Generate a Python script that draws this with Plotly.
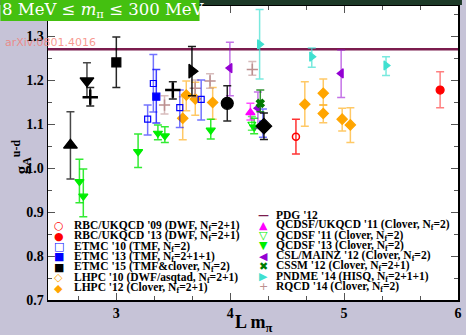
import plotly.graph_objects as go

# ---------------- data ----------------
pdg_value = 1.2701

blk_up_x = [2.597]; blk_up_y = [1.052]; blk_up_p = [0.076]; blk_up_m = [0.077]
blk_dn_x = [2.742]; blk_dn_y = [1.198]; blk_dn_p = [0.041]; blk_dn_m = [0.037]
blk_plus_x = [2.771, 3.496]; blk_plus_y = [1.161, 1.177]; blk_plus_p = [0.022, 0.019]; blk_plus_m = [0.020, 0.020]
blk_right_x = [3.664]; blk_right_y = [1.220]; blk_right_p = [0.056]; blk_right_m = [0.056]
blk_circ_x = [3.974]; blk_circ_y = [1.147]; blk_circ_p = [0.040]; blk_circ_m = [0.040]
blk_diam_x = [4.296]; blk_diam_y = [1.095]; blk_diam_p = [0.030]; blk_diam_m = [0.030]

etmc15_x = [3.0]; etmc15_y = [1.240]; etmc15_p = [0.058]; etmc15_m = [0.057]
etmc10_x = [3.275, 3.325, 3.557, 3.745, 4.287]
etmc10_y = [1.111, 1.192, 1.137, 1.156, 1.100]
etmc10_p = [0.032, 0.066, 0.040, 0.044, 0.034]
etmc10_m = [0.036, 0.065, 0.045, 0.047, 0.030]
etmc13_x = [3.351]; etmc13_y = [1.162]; etmc13_p = [0.062]; etmc13_m = [0.060]

qcdsf13_x = [2.676, 2.710, 3.191, 3.365, 3.426, 3.829, 4.210]
qcdsf13_y = [0.969, 0.936, 1.037, 1.079, 1.073, 1.086, 1.093]
qcdsf13_p = [0.051, 0.062, 0.040, 0.019, 0.021, 0.025, 0.020]
qcdsf13_m = [0.048, 0.047, 0.036, 0.015, 0.015, 0.020, 0.015]
qcdsf11_x = [4.190]; qcdsf11_y = [1.100]; qcdsf11_p = [0.017]; qcdsf11_m = [0.014]
qcdsfuk_x = [4.177]; qcdsfuk_y = [1.126]; qcdsfuk_p = [0.021]; qcdsfuk_m = [0.017]
csl_x = [3.997, 4.243, 4.974]; csl_y = [1.227, 1.136, 1.215]
csl_p = [0.059, 0.037, 0.053]; csl_m = [0.063, 0.046, 0.055]
cssm_x = [4.264]; cssm_y = [1.147]; cssm_p = [0.030]; cssm_m = [0.019]
pndme_x = [4.258, 4.716, 5.368]; pndme_y = [1.281, 1.253, 1.233]
pndme_p = [0.079, 0.020, 0.020]; pndme_m = [0.079, 0.024, 0.023]
rqcd_x = [3.423, 3.693, 3.823, 4.194]; rqcd_y = [1.143, 1.181, 1.198, 1.224]
rqcd_p = [0.021, 0.019, 0.016, 0.018]; rqcd_m = [0.020, 0.020, 0.017, 0.013]
lhpc12_x = [3.583, 3.614, 3.693, 3.846, 4.655, 4.817, 4.817, 4.983, 5.055]
lhpc12_y = [1.113, 1.166, 1.157, 1.149, 1.145, 1.170, 1.124, 1.111, 1.098]
lhpc12_p = [0.049, 0.032, 0.038, 0.034, 0.051, 0.032, 0.019, 0.025, 0.039]
lhpc12_m = [0.049, 0.036, 0.037, 0.038, 0.050, 0.027, 0.021, 0.027, 0.040]
rbc09_x = [4.577]; rbc09_y = [1.071]; rbc09_p = [0.040]; rbc09_m = [0.039]
rbc13_x = [5.843]; rbc13_y = [1.177]; rbc13_p = [0.042]; rbc13_m = [0.040]

legend_left = [
    ("○", "#ff0000", "RBC/UKQCD '09 (DWF, N<sub>f</sub>=2+1)"),
    ("●", "#ff0000", "RBC/UKQCD '13 (DWF, N<sub>f</sub>=2+1)"),
    ("□", "#0000ff", "ETMC '10 (TMF, N<sub>f</sub>=2)"),
    ("■", "#0000ff", "ETMC '13 (TMF, N<sub>f</sub>=2+1+1)"),
    ("■", "#000000", "ETMC '15 (TMF&clover, N<sub>f</sub>=2)"),
    ("◇", "#ffa500", "LHPC '10 (DWF/asqtad, N<sub>f</sub>=2+1)"),
    ("◆", "#ffa500", "LHPC '12 (Clover, N<sub>f</sub>=2+1)"),
]
legend_right = [
    ("—", "#7b1c4e", "PDG '12"),
    ("▲", "#ff00ff", "QCDSF/UKQCD '11 (Clover, N<sub>f</sub>=2)"),
    ("▽", "#00ee00", "QCDSF '11 (Clover, N<sub>f</sub>=2)"),
    ("▼", "#00ee00", "QCDSF '13 (Clover, N<sub>f</sub>=2)"),
    ("◀", "#9400d3", "CSL/MAINZ '12 (Clover, N<sub>f</sub>=2)"),
    ("✖", "#007a00", "CSSM '12 (Clover, N<sub>f</sub>=2+1)"),
    ("▶", "#40e0d0", "PNDME '14 (HISQ, N<sub>f</sub>=2+1+1)"),
    ("+", "#bc8f8f", "RQCD '14 (Clover, N<sub>f</sub>=2)"),
]

# ---------------- figure ----------------
W, H = 466, 335
ML, MR, MT, MB = 48, 4, 6, 35
fig = go.Figure()

def series(x, y, p, m, symbol, color, ecolor, size, name, lw=1.2):
    fig.add_trace(go.Scatter(
        x=x, y=y, mode="markers", name=name, showlegend=False, hoverinfo="skip",
        marker=dict(symbol=symbol, color=color, size=size,
                    line=dict(color=color, width=lw)),
        error_y=dict(type="data", symmetric=False, array=p, arrayminus=m,
                     color=ecolor, thickness=1.5, width=4),
    ))

fig.add_hline(y=pdg_value, line=dict(color="#7b1c4e", width=2.5), layer="below")

series(lhpc12_x, lhpc12_y, lhpc12_p, lhpc12_m, "diamond", "#ffa500", "rgba(255,165,0,0.6)", 8, "LHPC12")
series(rqcd_x, rqcd_y, rqcd_p, rqcd_m, "cross-thin", "#bc8f8f", "rgba(188,143,143,0.6)", 8, "RQCD14", 1.5)
series(etmc10_x, etmc10_y, etmc10_p, etmc10_m, "square-open", "#0000ff", "rgba(0,0,255,0.55)", 6, "ETMC10")
series(etmc13_x, etmc13_y, etmc13_p, etmc13_m, "square", "#0000ff", "rgba(0,0,255,0.75)", 7, "ETMC13")
series(qcdsf13_x, qcdsf13_y, qcdsf13_p, qcdsf13_m, "triangle-down", "#00ee00", "rgba(0,230,0,0.8)", 8, "QCDSF13")
series(qcdsf11_x, qcdsf11_y, qcdsf11_p, qcdsf11_m, "triangle-down-open", "#00ee00", "rgba(0,230,0,0.6)", 7, "QCDSF11")
series(qcdsfuk_x, qcdsfuk_y, qcdsfuk_p, qcdsfuk_m, "triangle-up", "#ff00ff", "rgba(255,0,255,0.7)", 8, "QCDSFUKQCD11")
series(csl_x, csl_y, csl_p, csl_m, "triangle-left", "#9400d3", "rgba(148,0,211,0.55)", 8, "CSLMAINZ12")
series(cssm_x, cssm_y, cssm_p, cssm_m, "x", "#007a00", "rgba(0,122,0,0.8)", 7, "CSSM12")
series(pndme_x, pndme_y, pndme_p, pndme_m, "triangle-right", "#40e0d0", "rgba(64,224,208,0.7)", 8, "PNDME14")
series(rbc09_x, rbc09_y, rbc09_p, rbc09_m, "circle-open", "#ff0000", "rgba(255,0,0,0.8)", 7, "RBC09", 1.5)
series(rbc13_x, rbc13_y, rbc13_p, rbc13_m, "circle", "#ff0000", "rgba(255,0,0,0.5)", 8, "RBC13")
series(etmc15_x, etmc15_y, etmc15_p, etmc15_m, "square", "#000000", "rgba(0,0,0,0.85)", 9, "ETMC15")
series(blk_up_x, blk_up_y, blk_up_p, blk_up_m, "triangle-up", "#000000", "rgba(40,40,40,0.85)", 12, "blk_up")
series(blk_dn_x, blk_dn_y, blk_dn_p, blk_dn_m, "triangle-down", "#000000", "rgba(40,40,40,0.85)", 12, "blk_dn")
series(blk_plus_x, blk_plus_y, blk_plus_p, blk_plus_m, "cross-thin", "#000000", "rgba(0,0,0,0.85)", 11, "blk_plus", 2.5)
series(blk_right_x, blk_right_y, blk_right_p, blk_right_m, "triangle-right", "#000000", "rgba(0,0,0,0.9)", 12, "blk_right")
series(blk_circ_x, blk_circ_y, blk_circ_p, blk_circ_m, "circle", "#000000", "rgba(0,0,0,0.85)", 12, "blk_circ")
series(blk_diam_x, blk_diam_y, blk_diam_p, blk_diam_m, "diamond", "#000000", "rgba(0,0,0,0.9)", 12, "blk_diam")

# ---------------- axes ----------------
pw, ph = W - ML - MR, H - MT - MB
tickfont = dict(family="Liberation Serif", size=14, color="#000000")
fig.update_xaxes(range=[2.4, 6.0], tickvals=[3, 4, 5, 6], ticktext=["<b>3</b>", "<b>4</b>", "<b>5</b>", "<b>6</b>"],
                 ticks="inside", ticklen=7, tickwidth=1, tickcolor="#555",
                 minor=dict(dtick=1/3, ticks="inside", ticklen=4, tickcolor="#555"),
                 showline=True, linecolor="#000", linewidth=1.5, mirror="allticks",
                 showgrid=False, zeroline=False, tickfont=tickfont)
fig.update_yaxes(range=[0.7, 0.7 + ph / 440.0],
                 tickvals=[0.7, 0.8, 0.9, 1.0, 1.1, 1.2, 1.3],
                 ticktext=["<b>0.7</b>", "<b>0.8</b>", "<b>0.9</b>", "<b>1.0</b>", "<b>1.1</b>", "<b>1.2</b>", "<b>1.3</b>"],
                 ticks="inside", ticklen=7, tickwidth=1, tickcolor="#555",
                 minor=dict(dtick=0.05, ticks="inside", ticklen=4, tickcolor="#555"),
                 showline=True, linecolor="#000", linewidth=1.5, mirror="allticks",
                 showgrid=False, zeroline=False, tickfont=tickfont)

def px_x(px):
    return (px - ML) / pw

def px_y(py):
    return (H - MB - py) / ph

shapes = [
    dict(type="rect", xref="paper", yref="paper", x0=px_x(0), x1=px_x(4), y0=px_y(H), y1=px_y(0),
         fillcolor="#1d3a28", line_width=0, layer="below"),
    dict(type="rect", xref="paper", yref="paper", x0=px_x(0), x1=px_x(W), y0=px_y(5), y1=px_y(0),
         fillcolor="#1d3a28", line_width=0, layer="above"),
    dict(type="rect", xref="paper", yref="paper", x0=px_x(0), x1=px_x(201), y0=px_y(21), y1=px_y(0),
         fillcolor="#44c010", line_width=0, layer="above"),
]

ann = []
ann.append(dict(xref="paper", yref="paper", x=px_x(0), y=px_y(10.5), xanchor="left", yanchor="middle",
                text="8 MeV ≤ <i>m</i><sub>π</sub> ≤ 300 MeV", showarrow=False,
                font=dict(family="DejaVu Serif", size=16.5, color="#ffffff")))
ann.append(dict(xref="paper", yref="paper", x=px_x(3), y=px_y(42), xanchor="left", yanchor="middle",
                text="arXiv:0801.4016", showarrow=False,
                font=dict(family="DejaVu Sans", size=11, color="rgba(245,120,110,0.75)")))
ann.append(dict(xref="paper", yref="paper", x=px_x(256), y=px_y(323), xanchor="center", yanchor="middle",
                text="<b>L m<sub>π</sub></b>", showarrow=False,
                font=dict(family="Liberation Serif", size=18, color="#000")))
ann.append(dict(xref="paper", yref="paper", x=px_x(21), y=px_y(157), xanchor="center", yanchor="middle",
                text="<b>g<sub>A</sub><sup>u-d</sup></b>", textangle=-90, showarrow=False,
                font=dict(family="Liberation Serif", size=17, color="#000")))

legfont = dict(family="Liberation Serif", size=11.5, color="#000")
for i, (sym, col, txt) in enumerate(legend_left):
    py = 225.7 + 10.43 * i
    ann.append(dict(xref="paper", yref="paper", x=px_x(59), y=px_y(py), xanchor="center", yanchor="middle",
                    text=sym, showarrow=False, font=dict(family="DejaVu Sans", size=11, color=col)))
    ann.append(dict(xref="paper", yref="paper", x=px_x(72), y=px_y(py), xanchor="left", yanchor="middle",
                    text="<b>" + txt + "</b>", showarrow=False, font=legfont))
for i, (sym, col, txt) in enumerate(legend_right):
    py = 215.0 + 10.25 * i
    ann.append(dict(xref="paper", yref="paper", x=px_x(266), y=px_y(py), xanchor="center", yanchor="middle",
                    text=("<b>" + sym + "</b>") if sym == "—" else sym, showarrow=False,
                    font=dict(family="DejaVu Sans", size=11, color=col)))
    ann.append(dict(xref="paper", yref="paper", x=px_x(276), y=px_y(py), xanchor="left", yanchor="middle",
                    text="<b>" + txt + "</b>", showarrow=False, font=legfont))

fig.update_layout(
    width=W, height=H, margin=dict(l=ML, r=MR, t=MT, b=MB, pad=0),
    paper_bgcolor="#c6c3d7", plot_bgcolor="#ffffff",
    showlegend=False, shapes=shapes, annotations=ann, hovermode=False,
)

fig.write_html("out.html", config={"displayModeBar": False, "staticPlot": True},
               post_script="document.body.style.margin='0px';document.body.style.overflow='hidden';")
